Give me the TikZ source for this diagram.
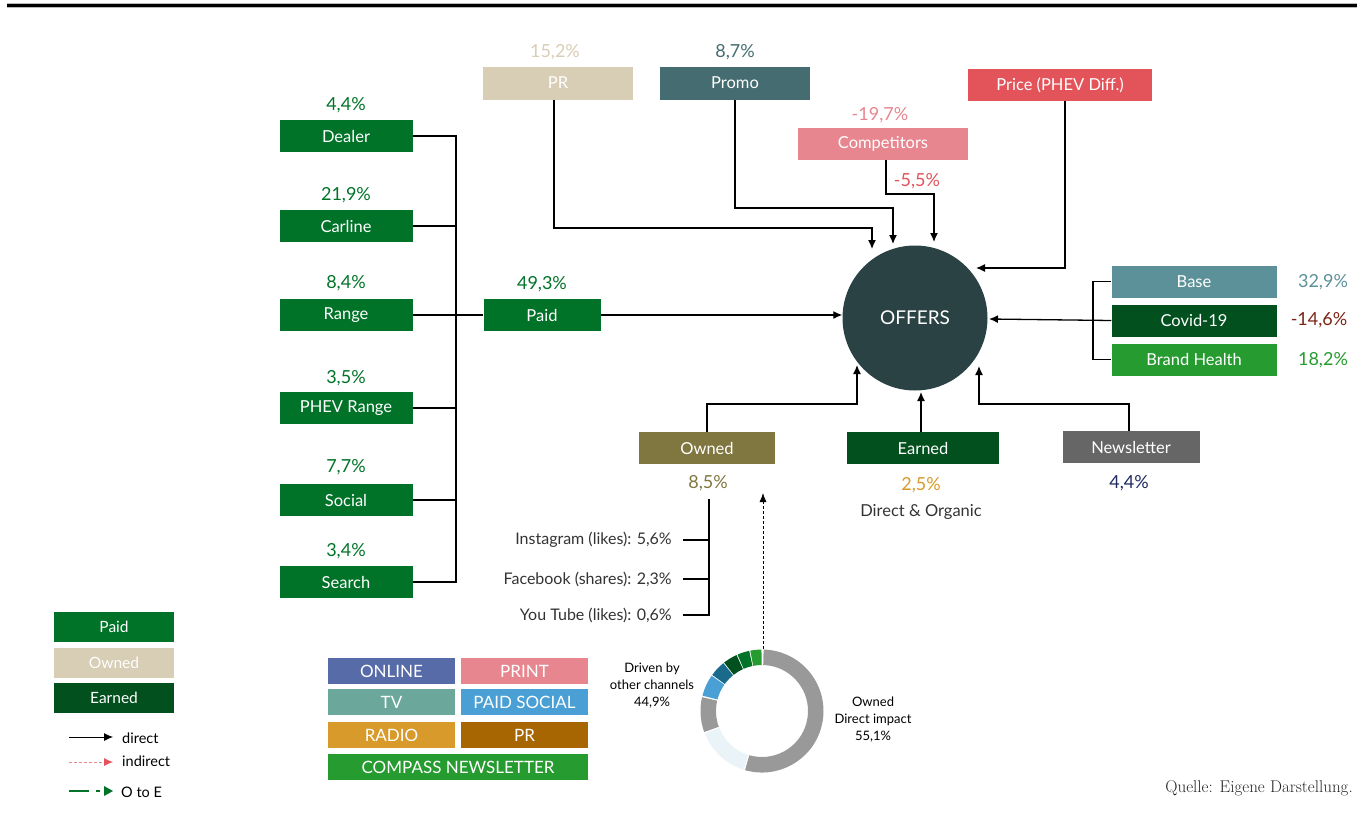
\documentclass[tikz,border=0pt]{standalone}
\usepackage{fontspec}
\setsansfont{Lato}
\usetikzlibrary{arrows.meta}
\definecolor{paidg}{HTML}{007328}
\definecolor{earnc}{HTML}{01501D}
\definecolor{beige}{HTML}{D8CDB5}
\definecolor{promoc}{HTML}{456C70}
\definecolor{pricec}{HTML}{E2535A}
\definecolor{compc}{HTML}{E8868F}
\definecolor{offc}{HTML}{2A4244}
\definecolor{basec}{HTML}{5C9199}
\definecolor{covidl}{HTML}{7B2413}
\definecolor{brandc}{HTML}{269B2F}
\definecolor{ownedc}{HTML}{807640}
\definecolor{orangec}{HTML}{D89A2A}
\definecolor{txtc}{HTML}{333333}
\definecolor{newsc}{HTML}{666666}
\definecolor{navyc}{HTML}{1E2A60}
\definecolor{onlinec}{HTML}{566BA8}
\definecolor{tvc}{HTML}{6BA89B}
\definecolor{socialc}{HTML}{4A9FD5}
\definecolor{prc}{HTML}{A86602}
\definecolor{dgray}{HTML}{999999}
\definecolor{lightc}{HTML}{EAF3F7}
\definecolor{dbluec}{HTML}{1A6A8C}
\begin{document}
\begin{tikzpicture}[x=1pt,y=-1pt,font=\sffamily,
  box/.style={fill=#1, text=white, inner sep=0pt, minimum height=32pt, font=\sffamily\fontsize{16.5}{19}\selectfont},
  cbox/.style={fill=#1, text=white, inner sep=0pt, minimum height=26pt, minimum width=127pt, font=\sffamily\fontsize{17}{19}\selectfont},
  lbox/.style={fill=#1, text=white, inner sep=0pt, minimum height=30pt, minimum width=120pt, font=\sffamily\fontsize{15.5}{18}\selectfont},
  pct/.style={text=#1, font=\sffamily\fontsize{18}{21}\selectfont, inner sep=0pt},
  sm/.style={text=txtc, font=\sffamily\fontsize{16}{19}\selectfont, inner sep=0pt},
  leg/.style={text=black, anchor=west, inner sep=0pt, font=\sffamily\fontsize{14.5}{17}\selectfont},
  ln/.style={line width=1.3pt, black},
  arr/.style={ln, -{Latex[length=9pt,width=8pt]}}]
\useasboundingbox (0,0) rectangle (1363,817);
% top rule
\draw[gray!55, line width=4.5pt] (7,5.7) -- (1357,5.7);
\draw[black, line width=3pt] (7,5.7) -- (1357,5.7);

% left paid group
\node[box=paidg, minimum width=133pt] (dealer) at (346,136) {Dealer};
\node[pct=paidg] at (346,105) {4,4\%};
\node[box=paidg, minimum width=133pt] (carline) at (346,226) {Carline};
\node[pct=paidg] at (346,195) {21,9\%};
\node[box=paidg, minimum width=133pt] (range) at (346,315) {Range};
\node[pct=paidg] at (346,283) {8,4\%};
\node[box=paidg, minimum width=133pt] (phev) at (346,408) {PHEV Range};
\node[pct=paidg] at (346,378) {3,5\%};
\node[box=paidg, minimum width=133pt] (social) at (346,500) {Social};
\node[pct=paidg] at (346,467) {7,7\%};
\node[box=paidg, minimum width=133pt] (search) at (346,582) {Search};
\node[pct=paidg] at (346,551) {3,4\%};
\node[box=paidg, minimum width=117pt] (paid) at (542,315) {Paid};
\node[pct=paidg] at (542,284) {49,3\%};

\coordinate (lbb) at (456,582);
\draw[ln] (dealer.east) -| (lbb) -- (search.east);
\draw[ln] (carline.east) -- (carline.east -| lbb);
\draw[ln] (phev.east) -- (phev.east -| lbb);
\draw[ln] (social.east) -- (social.east -| lbb);
\draw[ln] (range.east) -- (paid.west);

% OFFERS
\node[circle, fill=offc, minimum size=145pt, inner sep=0pt, text=white, font=\sffamily\fontsize{19}{22}\selectfont] (off) at (915,318) {OFFERS};
\draw[arr] (paid.east) -- (paid.east -| off.west);

% top nodes
\node[box=beige, minimum width=150pt, minimum height=33pt] (pr) at (558,83) {PR};
\node[pct=beige] at (555,52) {15,2\%};
\node[box=promoc, minimum width=150pt, minimum height=33pt] (promo) at (735,83) {Promo};
\node[pct=promoc] at (735,52) {8,7\%};
\node[box=pricec, minimum width=184pt] (price) at (1060,85) {Price (PHEV Diff.)};
\node[box=compc, minimum width=170pt] (comp) at (883,144) {Competitors};
\node[pct=compc] at (880,115) {-19,7\%};
\node[pct=pricec] at (917,181) {-5,5\%};

\coordinate (tPR) at (872,249);
\coordinate (tPromo) at (893,244);
\coordinate (tComp) at (934,242);
\coordinate (tPrice) at (976,268);
\draw[arr] ([xshift=-4pt]pr.south) |- (872,228) -- (tPR);
\draw[arr] (promo.south) |- (893,208) -- (tPromo);
\draw[arr] ([xshift=3pt]comp.south) |- (934,194) -- (tComp);
\draw[arr] ([xshift=5pt]price.south) |- (tPrice);

% right group
\node[box=basec, minimum width=165pt] (base) at (1194,281.5) {Base};
\node[box=earnc, minimum width=165pt] (covid) at (1194,320.5) {Covid-19};
\node[box=brandc, minimum width=165pt] (brand) at (1194,359.5) {Brand Health};
\node[pct=basec] at (1323,282) {32,9\%};
\node[pct=covidl] at (1319,320) {-14,6\%};
\node[pct=brandc] at (1323,360) {18,2\%};
\coordinate (rb) at (1093,320);
\draw[ln] (base.west) -| (rb) |- (brand.west);
\coordinate (tCovid) at (989,319);
\draw[arr] (covid.west) -- (tCovid);

% bottom group
\node[box=ownedc, minimum width=136pt] (owned) at (707,448) {Owned};
\node[pct=ownedc] at (708,483) {8,5\%};
\coordinate (tOwned) at (857,365);
\draw[arr] (owned.north) |- (857,404) -- (tOwned);

\node[box=earnc, minimum width=152pt] (earned) at (923,448) {Earned};
\node[pct=orangec] at (921,485) {2,5\%};
\node[sm, font=\sffamily\fontsize{16.5}{19}\selectfont] at (921,512) {Direct \& Organic};
\coordinate (tEarn) at (921,392);
\draw[arr] (earned.north -| tEarn) -- (tEarn);

\node[box=newsc, minimum width=137pt] (news) at (1131,447) {Newsletter};
\node[pct=navyc] at (1129,483) {4,4\%};
\coordinate (tNews) at (979,366);
\draw[arr] ([xshift=-2pt]news.north) |- (979,404) -- (tNews);

% owned breakdown
\coordinate (sbt) at (709,499);
\node[sm, anchor=east] (ig) at (672,540) {Instagram (likes): 5,6\%};
\node[sm, anchor=east] (fb) at (672,579) {Facebook (shares): 2,3\%};
\node[sm, anchor=east] (yt) at (672,615) {You Tube (likes): 0,6\%};
\draw[ln] ([xshift=11pt]yt.east) -| (sbt);
\draw[ln] ([xshift=11pt]ig.east) -- (ig.east -| sbt);
\draw[ln] ([xshift=11pt]fb.east) -- (fb.east -| sbt);

% dashed arrow from donut
\coordinate (dA) at (763,649);
\coordinate (dB) at (763,493);
\draw[black, line width=0.8pt, dash pattern=on 3pt off 2pt, -{Latex[length=9pt,width=7pt]}] (dA) -- (dB);

% donut
\begin{scope}[shift={(762,711)}, y=1pt]
\def\Ro{61.5pt}\def\Ri{46pt}
\foreach \a/\b/\c in {-106/88.5/dgray, 90.5/101/brandc, 102/113.5/paidg, 114.5/128/earnc, 129/144/dbluec, 145/165.5/socialc, 167/200/dgray, 201.5/252.5/lightc}{
  \fill[\c] (\a:\Ro) arc[start angle=\a, end angle=\b, radius=\Ro] -- (\b:\Ri) arc[start angle=\b, end angle=\a, radius=\Ri] -- cycle;
}
\end{scope}
\node[text=black, font=\sffamily\fontsize{13}{17}\selectfont, align=center, inner sep=0pt] (drv) at (652,686) {Driven by\\other channels\\44,9\%};
\node[text=black, font=\sffamily\fontsize{13}{17}\selectfont, align=center, inner sep=0pt] (odi) at (873,720) {Owned\\Direct impact\\55,1\%};

% channel legend
\node[cbox=onlinec] (online) at (391.5,671) {ONLINE};
\node[cbox=compc] (print) at (524.5,671) {PRINT};
\node[cbox=tvc] (tv) at (391.5,702) {TV};
\node[cbox=socialc] (psocial) at (524.5,702) {PAID SOCIAL};
\node[cbox=orangec] (radio) at (391.5,735) {RADIO};
\node[cbox=prc] (prl) at (524.5,735) {PR};
\node[cbox=brandc, minimum width=260pt] (compass) at (458,767) {COMPASS NEWSLETTER};

% type legend
\node[lbox=paidg] (lpaid) at (114,627) {Paid};
\node[lbox=beige] (lowned) at (114,663) {Owned};
\node[lbox=earnc] (learned) at (114,698) {Earned};
\coordinate (d1) at (69,737); \coordinate (d2) at (113,737);
\draw[black, line width=0.8pt, -{Latex[length=9pt,width=8pt]}] (d1) -- (d2);
\node[leg] at (122,738) {direct};
\coordinate (i1) at (69,762); \coordinate (i2) at (113,762);
\draw[compc, line width=0.8pt, dash pattern=on 3pt off 2pt, -{Latex[length=9pt,width=8pt,color=pricec]}] (i1) -- (i2);
\node[leg] at (122,761) {indirect};
\draw[paidg, line width=2pt] (69,791) -- (89,791);
\draw[paidg, line width=2pt] (96,791) -- (100,791);
\fill[paidg] (104,786) -- (113,791) -- (104,796) -- cycle;
\node[leg] at (121,792) {O to E};

\node[anchor=east, inner sep=0pt, font=\rmfamily\fontsize{17}{19}\selectfont, text=black!85] (src) at (1353,788) {Quelle: Eigene Darstellung.};
\end{tikzpicture}
\end{document}
